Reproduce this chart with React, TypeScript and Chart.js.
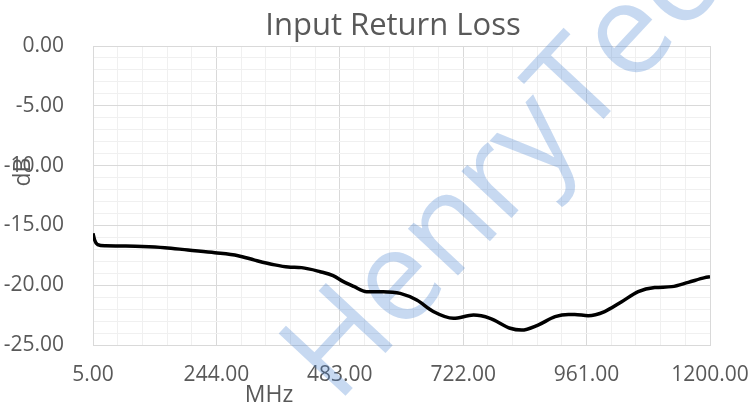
import React, { useEffect, useRef } from 'react';
import { Chart, registerables } from 'chart.js';

Chart.register(...registerables);

const freqMHz = [5, 8, 14, 30, 60, 100, 144, 189, 241, 286, 318, 357, 383, 409, 445, 470, 490, 510, 535, 567, 600, 632, 664, 703, 742, 774, 813, 835, 867, 900, 926, 938, 964, 996, 1029, 1061, 1093, 1126, 1158, 1190, 1200];
const returnLossDb = [-15.66, -16.2, -16.6, -16.7, -16.72, -16.76, -16.86, -17.06, -17.28, -17.53, -17.9, -18.3, -18.48, -18.53, -18.87, -19.2, -19.7, -20.1, -20.54, -20.54, -20.68, -21.24, -22.2, -22.77, -22.5, -22.77, -23.6, -23.75, -23.33, -22.63, -22.44, -22.44, -22.55, -22.2, -21.38, -20.54, -20.2, -20.12, -19.76, -19.37, -19.3];

const xMajorTicks = [5, 244, 483, 722, 961, 1200];
const yMajorTicks = [-25, -20, -15, -10, -5, 0];
const xMinorPerMajor = 5;
const yMinorPerMajor = 5;

const chartTitle = 'Input Return Loss';
const xAxisTitle = 'MHz';
const yAxisTitle = 'dB';
const watermarkText = 'HenryTech';

const FONT = '"Open Sans", "Noto Sans", sans-serif';
const TEXT_COLOR = '#595959';
const MAJOR_GRID = '#d9d9d9';
const MINOR_GRID = '#f0f0f0';

function withMinor(majors: number[], n: number): number[] {
  const out: number[] = [];
  for (let i = 0; i < majors.length; i++) {
    out.push(majors[i]);
    if (i < majors.length - 1) {
      for (let k = 1; k < n; k++) out.push(majors[i] + ((majors[i + 1] - majors[i]) * k) / n);
    }
  }
  return out;
}

const isMajor = (majors: number[], v: number) => majors.some((m) => Math.abs(m - v) < 1e-6);

const overlayPlugin = {
  id: 'overlay',
  beforeDatasetsDraw(chart: any) {
    const ctx = chart.ctx;
    ctx.save();
    ctx.translate(337, 405);
    ctx.rotate((-47 * Math.PI) / 180);
    ctx.font = `128px ${FONT}`;
    ctx.fillStyle = 'rgba(68,130,210,0.3)';
    ctx.textBaseline = 'alphabetic';
    ctx.textAlign = 'left';
    ctx.fillText(watermarkText, 0, 0);
    ctx.restore();
  },
  afterDraw(chart: any) {
    const ctx = chart.ctx;
    ctx.save();
    ctx.fillStyle = TEXT_COLOR;
    ctx.textAlign = 'center';
    ctx.textBaseline = 'alphabetic';
    ctx.font = `31px ${FONT}`;
    ctx.fillText(chartTitle, 393, 35);
    ctx.font = `23px ${FONT}`;
    ctx.fillText(xAxisTitle, 269, 402);
    ctx.translate(23, 172);
    ctx.rotate(-Math.PI / 2);
    ctx.textBaseline = 'middle';
    ctx.fillText(yAxisTitle, 0, 0);
    ctx.restore();
  },
};

export default function App() {
  const ref = useRef<HTMLCanvasElement | null>(null);

  useEffect(() => {
    if (!ref.current) return;
    const xTicks = withMinor(xMajorTicks, xMinorPerMajor);
    const yTicks = withMinor(yMajorTicks, yMinorPerMajor);
    const chart = new Chart(ref.current, {
      type: 'line',
      data: {
        datasets: [
          {
            label: 'Return Loss',
            data: freqMHz.map((f, i) => ({ x: f, y: returnLossDb[i] })),
            borderColor: '#000000',
            borderWidth: 3.5,
            pointRadius: 0,
            tension: 0.4,
            cubicInterpolationMode: 'monotone',
            fill: false,
          },
        ],
      },
      options: {
        animation: false,
        responsive: false,
        devicePixelRatio: 1,
        layout: { padding: { top: 46, right: 42, left: 0, bottom: 0 } },
        plugins: { legend: { display: false }, tooltip: { enabled: false }, title: { display: false } },
        scales: {
          x: {
            type: 'linear',
            min: 5,
            max: 1200,
            afterBuildTicks: (scale: any) => {
              scale.ticks = xTicks.map((v) => ({ value: v }));
            },
            afterFit: (scale: any) => {
              scale.height = 64;
            },
            grid: {
              drawTicks: false,
              color: (c: any) => (isMajor(xMajorTicks, c.tick ? c.tick.value : 0) ? MAJOR_GRID : MINOR_GRID),
              lineWidth: 1,
            },
            border: { display: true, color: MAJOR_GRID },
            ticks: {
              autoSkip: false,
              maxRotation: 0,
              padding: 2,
              color: TEXT_COLOR,
              font: { family: FONT, size: 21, lineHeight: 2.71 },
              callback: (v: any) => (isMajor(xMajorTicks, Number(v)) ? Number(v).toFixed(2) : ''),
            },
          },
          y: {
            type: 'linear',
            min: -25,
            max: 0,
            afterBuildTicks: (scale: any) => {
              scale.ticks = yTicks.map((v) => ({ value: v }));
            },
            afterFit: (scale: any) => {
              scale.width = 93;
            },
            grid: {
              drawTicks: false,
              color: (c: any) => (isMajor(yMajorTicks, c.tick ? c.tick.value : 0) ? MAJOR_GRID : MINOR_GRID),
              lineWidth: 1,
            },
            border: { display: true, color: MAJOR_GRID },
            ticks: {
              autoSkip: false,
              padding: 29,
              color: TEXT_COLOR,
              font: { family: FONT, size: 21 },
              callback: (v: any) => (isMajor(yMajorTicks, Number(v)) ? Number(v).toFixed(2) : ''),
            },
          },
        },
      },
      plugins: [overlayPlugin],
    } as any);
    return () => chart.destroy();
  }, []);

  return (
    <div style={{ position: 'fixed', left: 0, top: 0, width: 752, height: 409, background: '#ffffff' }}>
      <canvas ref={ref} width={752} height={409} style={{ display: 'block', width: 752, height: 409 }} />
    </div>
  );
}
